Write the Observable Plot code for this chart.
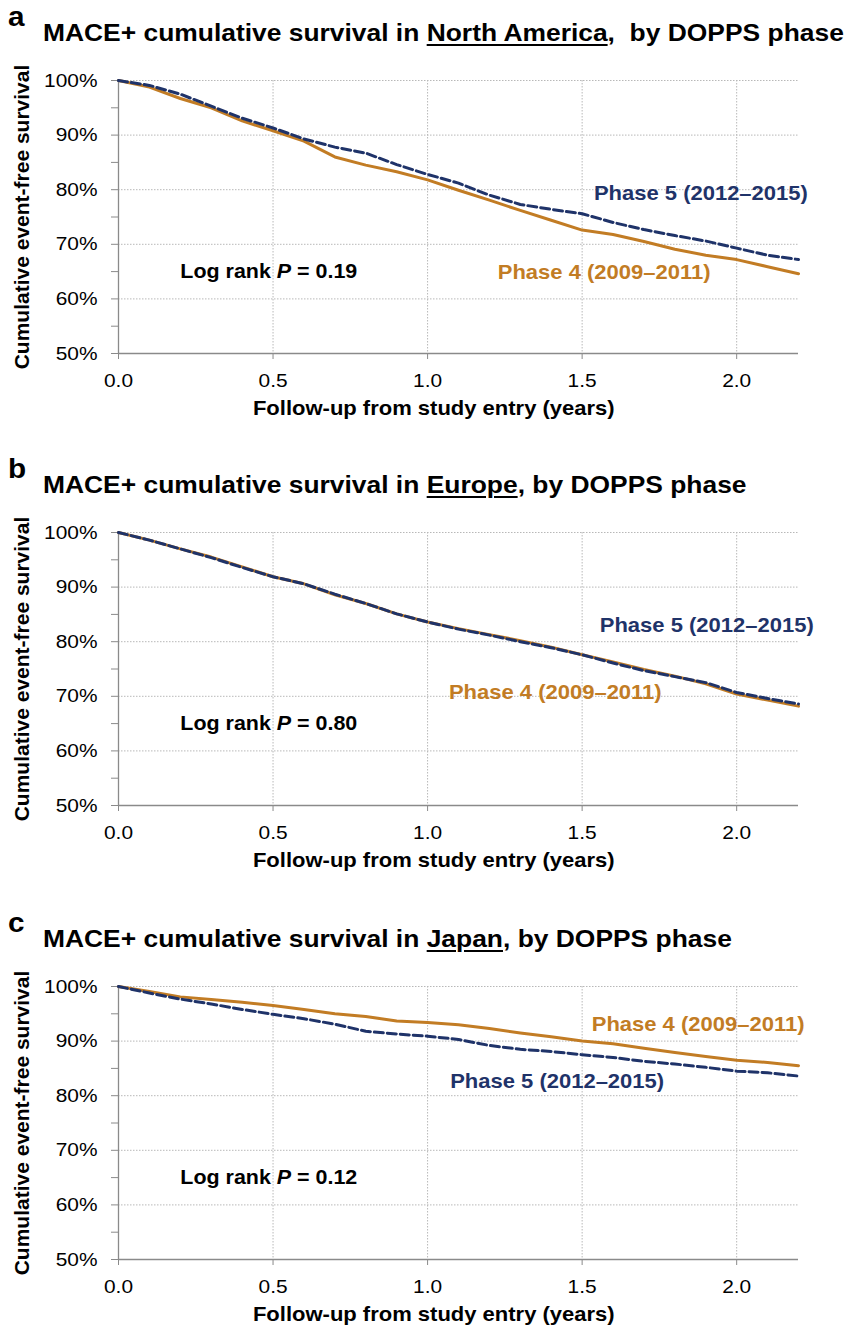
<!DOCTYPE html>
<html>
<head>
<meta charset="utf-8">
<script src="https://cdn.jsdelivr.net/npm/d3@7"></script>
<script src="https://cdn.jsdelivr.net/npm/@observablehq/plot@0.6"></script>
<style>
  html, body { margin: 0; padding: 0; background: #fff; }
  #root { position: relative; width: 849px; height: 1326px; overflow: hidden; font-family: "Liberation Sans", Arial, sans-serif; }
  .plabel { position: absolute; left: 8px; font-weight: bold; font-size: 27px; line-height: 27px; transform: scaleX(1.1); transform-origin: 0 0; z-index: 2; }
  .title { position: absolute; left: 43px; font-weight: bold; font-size: 24px; line-height: 24px; white-space: nowrap; transform: scaleX(1.1); transform-origin: 0 0; color: #000; z-index: 2; }
  .title u { text-decoration-thickness: 2px; text-underline-offset: 3px; }
  .panel { position: absolute; left: 0; }
</style>
</head>
<body>
<div id="root"></div>
<script>
// ---- data ----
const years = [0, 0.1, 0.2, 0.3, 0.4, 0.5, 0.6, 0.7, 0.8, 0.9, 1.0, 1.1, 1.2, 1.3, 1.4, 1.5, 1.6, 1.7, 1.8, 1.9, 2.0, 2.1, 2.2];

const naPhase4 = [100, 98.8, 96.7, 95.0, 92.6, 90.8, 88.9, 86.0, 84.5, 83.3, 81.8, 79.9, 78.1, 76.2, 74.4, 72.6, 71.8, 70.5, 69.1, 68.0, 67.2, 65.9, 64.6];
const naPhase5 = [100, 99.1, 97.5, 95.3, 93.1, 91.3, 89.3, 87.8, 86.7, 84.6, 82.8, 81.2, 79.0, 77.3, 76.4, 75.6, 74.0, 72.7, 71.6, 70.6, 69.3, 68.0, 67.2];

const euPhase4 = [100, 98.6, 97.0, 95.5, 93.7, 91.9, 90.6, 88.6, 87.0, 85.1, 83.6, 82.4, 81.3, 80.2, 79.0, 77.6, 76.3, 74.9, 73.7, 72.3, 70.4, 69.3, 68.2];
const euPhase5 = [100, 98.6, 97.0, 95.4, 93.6, 91.9, 90.6, 88.7, 87.0, 85.1, 83.6, 82.3, 81.2, 80.0, 78.9, 77.6, 76.1, 74.7, 73.6, 72.5, 70.7, 69.6, 68.6];

const jpPhase4 = [100, 99.1, 98.1, 97.6, 97.1, 96.5, 95.8, 95.0, 94.5, 93.7, 93.4, 93.0, 92.3, 91.5, 90.8, 90.0, 89.5, 88.7, 87.9, 87.2, 86.5, 86.1, 85.5];
const jpPhase5 = [100, 98.8, 97.7, 96.8, 95.8, 94.9, 94.1, 93.1, 91.8, 91.3, 90.9, 90.3, 89.2, 88.5, 88.1, 87.5, 87.0, 86.3, 85.8, 85.2, 84.5, 84.2, 83.6];

const panelLetters = ["a", "b", "c"];
const regions = ["North America", "Europe", "Japan"];
const pValues = ["0.19", "0.80", "0.12"];
const phase4Label = "Phase 4 (2009\u20132011)";
const phase5Label = "Phase 5 (2012\u20132015)";
// label anchor positions (years, %)
const phase4Pos = [[1.227, 64.8], [1.069, 70.6], [1.531, 93.1]];
const phase5Pos = [[1.538, 79.3], [1.557, 83.0], [1.073, 82.5]];
const logRankPos = [0.2, 65];

const yTicks = [50, 55, 60, 65, 70, 75, 80, 85, 90, 95, 100];
const yGridTicks = [60, 70, 80, 90, 100];
const xTicks = [0, 0.5, 1.0, 1.5, 2.0];
const xGridTicks = [0.5, 1.0, 1.5, 2.0];
const xLabel = "Follow-up from study entry (years)";
const yLabel = "Cumulative event-free survival";

const ORANGE = "#c27c24";
const NAVY = "#1f3369";
const AXIS = "#8a8a8a";
const GRID = "#b8b8b8";

const series = [[naPhase4, naPhase5], [euPhase4, euPhase5], [jpPhase4, jpPhase5]];
const plotTops = [80, 532, 986];

const root = document.getElementById("root");

series.forEach(([p4, p5], k) => {
  const top = plotTops[k] - 30;

  const rows4 = years.map((t, i) => ({t, v: p4[i]}));
  const rows5 = years.map((t, i) => ({t, v: p5[i]}));
  const labels = [
    {t: phase4Pos[k][0], v: phase4Pos[k][1], text: phase4Label, color: ORANGE},
    {t: phase5Pos[k][0], v: phase5Pos[k][1], text: phase5Label, color: NAVY}
  ];

  const svg = Plot.plot({
    width: 849,
    height: 370,
    marginLeft: 118,
    marginRight: 51,
    marginTop: 30,
    marginBottom: 67,
    x: {domain: [0, 2.2]},
    y: {domain: [50, 100]},
    style: {fontFamily: "'Liberation Sans', Arial, sans-serif", fontSize: "19px", color: "#000", background: "#fff", overflow: "visible"},
    marks: [
      Plot.gridY(yGridTicks, {stroke: GRID, strokeOpacity: 1, strokeDasharray: "1.5,1.5", strokeWidth: 1}),
      Plot.gridX(xGridTicks, {stroke: GRID, strokeOpacity: 1, strokeDasharray: "1.5,1.5", strokeWidth: 1}),
      Plot.axisY(yTicks, {tickSize: 7, tickPadding: 14, stroke: AXIS, tickFormat: d => d % 10 === 0 ? d + "%" : "", label: null, fill: "#000", fontSize: 19}),
      Plot.axisX(xTicks, {tickSize: 6, tickPadding: 14, stroke: AXIS, tickFormat: d3.format(".1f"), label: null, fill: "#000", fontSize: 19}),
      Plot.ruleX([0], {stroke: AXIS, strokeWidth: 1.3}),
      Plot.ruleY([50], {stroke: AXIS, strokeWidth: 1.3}),
      Plot.line(rows4, {x: "t", y: "v", stroke: ORANGE, strokeWidth: 3}),
      Plot.line(rows5, {x: "t", y: "v", stroke: NAVY, strokeWidth: 3, strokeDasharray: "9,4"}),
      Plot.text(labels, {x: "t", y: "v", text: "text", fill: "color", textAnchor: "start", lineAnchor: "middle", fontWeight: "bold", fontSize: 20}),
      Plot.text([{t: logRankPos[0], v: logRankPos[1], text: "Log rank P = " + pValues[k]}], {x: "t", y: "v", text: "text", textAnchor: "start", lineAnchor: "middle", fontWeight: "bold", fontSize: 19.5, fill: "#000"}),
      Plot.text([{t: 1.02, text: xLabel}], {x: "t", text: "text", frameAnchor: "bottom", lineAnchor: "top", textAnchor: "middle", dy: 47, fontWeight: "bold", fontSize: 20, fill: "#000"}),
      Plot.text([yLabel], {frameAnchor: "left", rotate: -90, dx: -96, textAnchor: "middle", lineAnchor: "middle", fontWeight: "bold", fontSize: 21, fill: "#000"})
    ]
  });

  // horizontal stretch of upright text, italic P
  svg.querySelectorAll("text").forEach(t => {
    const tr = t.getAttribute("transform");
    if (tr && !tr.includes("rotate")) t.setAttribute("transform", tr + " scale(1.1,1)");
    const s = t.textContent;
    if (s.startsWith("Log rank P")) {
      t.textContent = "";
      t.setAttribute("style", "white-space: pre");
      const parts = [["Log rank ", false], ["P", true], [" = " + pValues[k], false]];
      parts.forEach(([txt, it]) => {
        const ts = document.createElementNS("http://www.w3.org/2000/svg", "tspan");
        ts.textContent = txt;
        if (it) ts.setAttribute("font-style", "italic");
        t.appendChild(ts);
      });
    }
  });

  const wrap = document.createElement("div");
  wrap.className = "panel";
  wrap.style.top = top + "px";
  wrap.appendChild(svg);
  root.appendChild(wrap);

  // letter + title
  const lab = document.createElement("div");
  lab.className = "plabel";
  lab.style.top = (top - 46) + "px";
  lab.textContent = panelLetters[k];
  root.appendChild(lab);

  const title = document.createElement("div");
  title.className = "title";
  title.style.top = (top - 29.5) + "px";
  const sep = k === 0 ? ",\u00a0\u00a0by DOPPS phase" : ", by DOPPS phase";
  title.innerHTML = "MACE+ cumulative survival in <u>" + regions[k] + "</u>" + sep;
  root.appendChild(title);
});
</script>
</body>
</html>
